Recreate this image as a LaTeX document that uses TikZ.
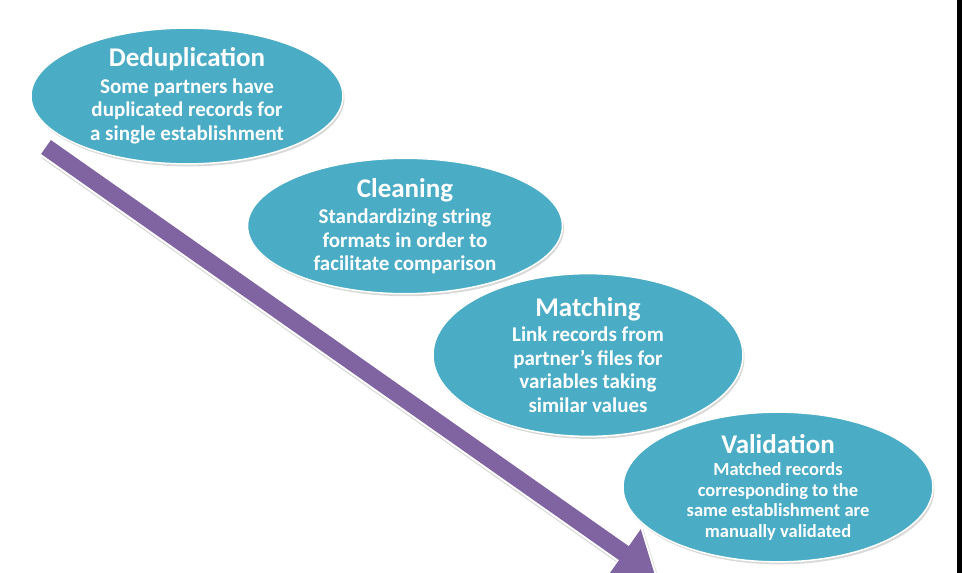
\documentclass[tikz,border=0pt]{standalone}
\usepackage{fontspec}
\setmainfont{Carlito}
\usepackage{tikz}
\usetikzlibrary{shapes.geometric,shadows,arrows.meta}

\definecolor{stagecol}{HTML}{4BACC6}
\definecolor{flowcol}{HTML}{8064A2}

\newcommand{\stagehead}[1]{{\fontsize{27}{30}\selectfont #1}}

\begin{document}
\begin{tikzpicture}[x=1pt,y=-1pt,
	stage/.style={ellipse, fill=stagecol, draw=white, line width=1.5pt, inner sep=0pt,
		align=center, text=white, font=\bfseries\fontsize{21}{23.5}\selectfont,
		drop shadow={opacity=.3, shadow xshift=1.5pt, shadow yshift=-2.5pt}},
	flow/.style={flowcol, line width=17pt, -{Triangle[width=56pt,length=38pt]}}]

    \useasboundingbox (0,0) rectangle (962,573);
    \clip (0,0) rectangle (962,573);
    \begin{pgfinterruptboundingbox}
    \fill[black] (957,0) rectangle (962,573);

    % the process arrow, behind the stages
    \coordinate (start) at (46,147);
    \coordinate (tip) at (655,575);
    \draw[black!30, opacity=.5, line width=21pt, -{Triangle[width=62pt,length=42pt]}, shorten >=-3pt,
          transform canvas={xshift=1.5pt,yshift=-2.5pt}] (start) -- (tip);
    \draw[white, line width=21pt, -{Triangle[width=62pt,length=42pt]}, shorten >=-3pt] (start) -- (tip);
    \draw[flow] (start) -- (tip);

    \node[stage, minimum width=312pt, minimum height=130pt] (dedup) at (187,96)
        {\stagehead{Deduplication}\\[3pt] Some partners have\\ duplicated records for\\ a single establishment};
    \node[stage, minimum width=315pt, minimum height=124pt] (clean) at (405,226)
        {\stagehead{Cleaning}\\[3pt] Standardizing string\\ formats in order to\\ facilitate comparison};
    \node[stage, minimum width=310pt, minimum height=136pt] (match) at (588,355)
        {\stagehead{Matching}\\[2pt] Link records from\\ partner’s files for\\ variables taking\\ similar values};
    \node[stage, minimum width=310pt, minimum height=122pt, font=\bfseries\fontsize{18.5}{20.5}\selectfont] (valid) at (778,487)
        {\stagehead{Validation}\\[2pt] Matched records\\ corresponding to the\\ same establishment are\\ manually validated};
    \end{pgfinterruptboundingbox}
\end{tikzpicture}
\end{document}
